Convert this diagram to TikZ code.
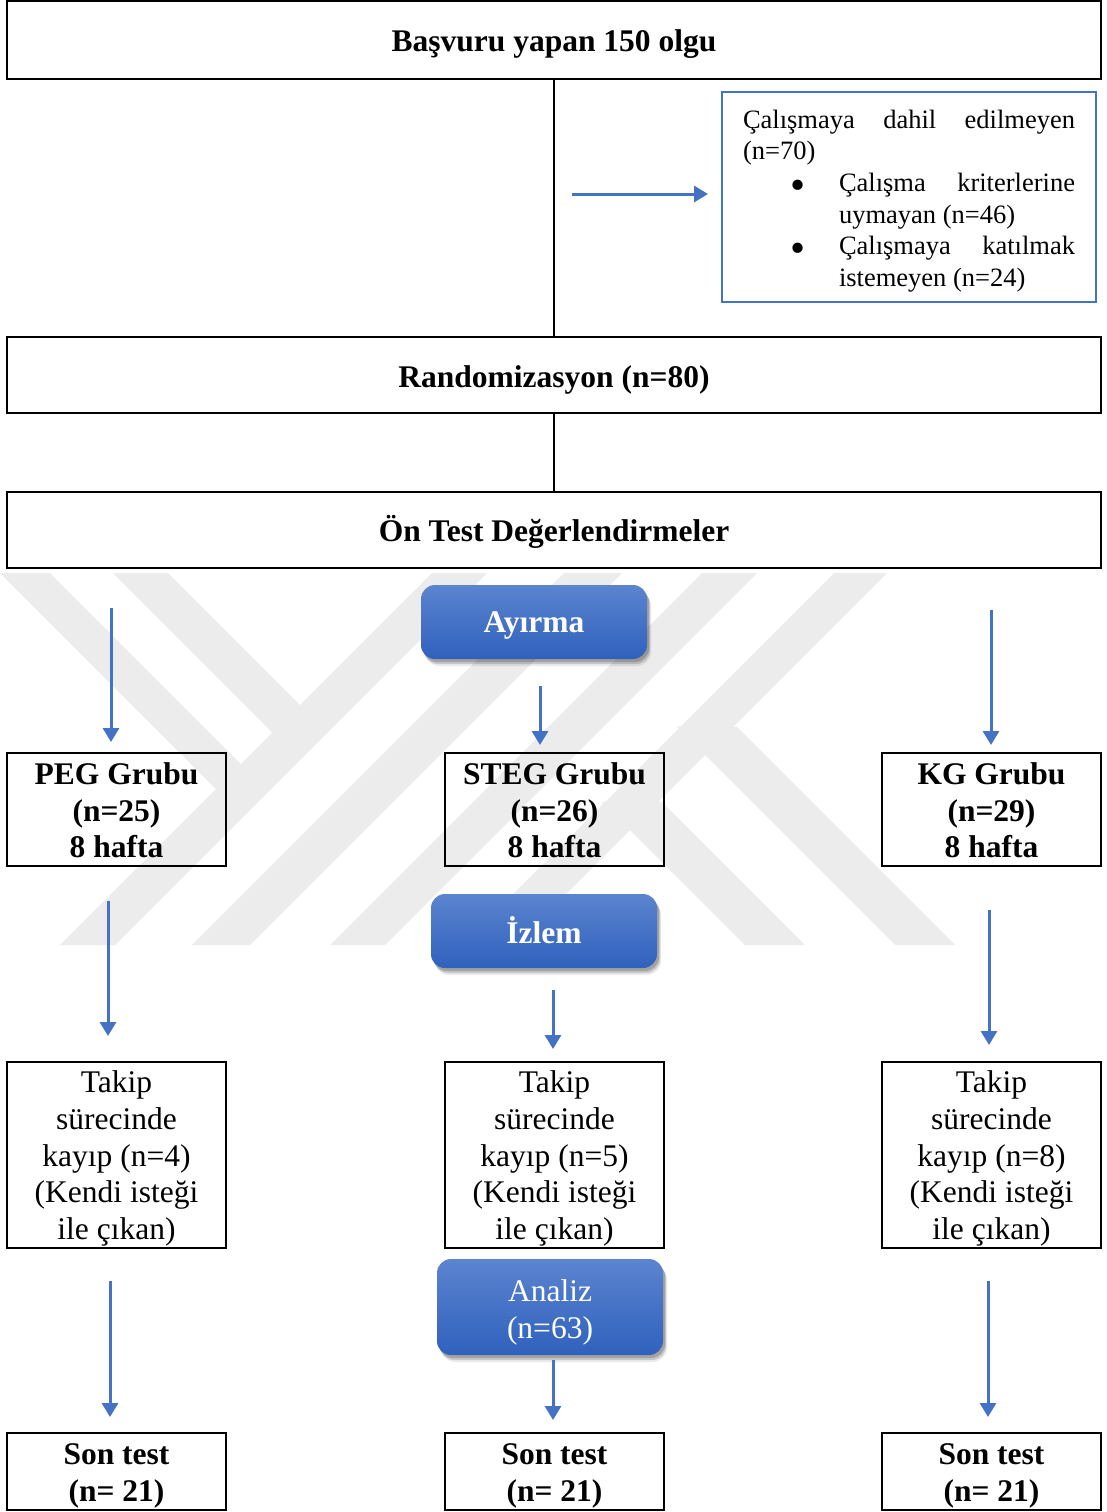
\documentclass[tikz,border=0pt]{standalone}
\usepackage{fontspec}
\setmainfont{Liberation Serif}
\usetikzlibrary{arrows.meta,shadows}
\definecolor{arrowblue}{RGB}{68,114,196}
\definecolor{wm}{RGB}{236,236,236}
\definecolor{btop}{RGB}{92,132,207}
\definecolor{bbot}{RGB}{47,97,189}
\tikzset{
  frame/.style={draw=black, line width=2.5pt, rectangle, inner sep=0pt},
  normtext/.style={inner sep=0pt, align=center, font=\fontsize{31.5}{36.7}\selectfont},
  boldtext/.style={inner sep=0pt, align=center, font=\fontsize{31.5}{36.7}\selectfont\bfseries},
  pill/.style={rectangle, rounded corners=14pt, top color=btop, bottom color=bbot,
    draw=none, inner sep=0pt, minimum width=226pt,
    drop shadow={shadow xshift=2pt, shadow yshift=-3pt, opacity=0.18, fill=black},
    drop shadow={shadow xshift=3pt, shadow yshift=-5pt, opacity=0.15, fill=black},
    drop shadow={shadow xshift=4pt, shadow yshift=-7pt, opacity=0.08, fill=black}},
  pilltext/.style={inner sep=0pt, align=center, text=white},
  flow/.style={draw=arrowblue, line width=3pt, -{Triangle[width=16pt,length=14pt]}},
  link/.style={draw=black, line width=1.8pt},
  band/.style={fill=wm, draw=none},
}
\newcommand{\bigbul}{\raisebox{-8pt}{\fontsize{43}{0}\selectfont\textbullet}}
\begin{document}
\begin{tikzpicture}[x=1pt,y=-1pt]
\useasboundingbox (0,0) rectangle (1107,1512);
\fill[white] (0,0) rectangle (1107,1512);

% faint watermark
\begin{scope}
  \clip (0,573) rectangle (1107,945);
  \fill[band] (60,945)--(115,945)--(487,573)--(432,573)--cycle;
  \fill[band] (192,945)--(250,945)--(622,573)--(564,573)--cycle;
  \fill[band] (330,945)--(385,945)--(757,573)--(702,573)--cycle;
  \fill[band] (462,945)--(515,945)--(887,573)--(834,573)--cycle;
  \fill[band] (0,573)--(50,573)--(267,790)--(217,790)--cycle;
  \fill[band] (113,573)--(168,573)--(327.5,732.5)--(272.5,732.5)--cycle;
  \fill[band] (895,945)--(955,945)--(736.5,726.5)--(676.5,726.5)--cycle;
  \fill[band] (745,945)--(805,945)--(661.5,801.5)--(601.5,801.5)--cycle;
\end{scope}

% top part
\node[frame, minimum width=1094pt, minimum height=78pt] (top) at (554,40) {};
\node[boldtext] (topt) at ([yshift=-4pt]top.center) {Başvuru yapan 150 olgu};
\node[frame, minimum width=1094pt, minimum height=76pt] (rand) at (554,375) {};
\node[boldtext] (randt) at ([yshift=-5pt]rand.center) {Randomizasyon (n=80)};
\node[frame, minimum width=1094pt, minimum height=76pt] (ontest) at (554,530) {};
\node[boldtext] (ontestt) at ([yshift=-2pt]ontest.center) {Ön Test Değerlendirmeler};
\draw[link] (top.south) -- (rand.north);
\draw[link] (rand.south) -- (ontest.north);

\node[draw=arrowblue, line width=2.5pt, rectangle, inner sep=0pt,
      minimum width=374pt, minimum height=210pt] (excl) at (909,197) {};
\node[inner sep=0pt] (exclt) at ([yshift=-4pt]excl.center)
  {\parbox{332pt}{\fontsize{26.5}{31.6}\selectfont\tolerance=10000
   Çalışmaya dahil edilmeyen (n=70)\par
   \leftskip=96pt
   \noindent\llap{\bigbul\hspace{33pt}}Çalışma kriterlerine uymayan (n=46)\par
   \noindent\llap{\bigbul\hspace{33pt}}Çalışmaya katılmak istemeyen (n=24)\par}};
\coordinate (hs) at (572,194);
\coordinate (he) at (708,194);
\draw[flow] (hs) -- (he);

% Ayirma
\node[pill, minimum height=74pt] (ayirma) at (534,622) {};
\node[pilltext, font=\fontsize{31.5}{36.7}\selectfont\bfseries] (ayirmat) at ([yshift=-3pt]ayirma.center) {Ayırma};

% groups
\node[frame, minimum width=219pt, minimum height=113pt] (peg) at (116.5,809.5) {};
\node[frame, minimum width=219pt, minimum height=113pt] (steg) at (554.5,809.5) {};
\node[frame, minimum width=219pt, minimum height=113pt] (kg) at (991.5,809.5) {};
\node[boldtext] (pegt) at ([yshift=-1pt]peg.center) {PEG Grubu\\(n=25)\\8 hafta};
\node[boldtext] (stegt) at ([yshift=-1pt]steg.center) {STEG Grubu\\(n=26)\\8 hafta};
\node[boldtext] (kgt) at ([yshift=-1pt]kg.center) {KG Grubu\\(n=29)\\8 hafta};

\coordinate (a1s) at (111,608); \coordinate (a1e) at (111,742);
\coordinate (a2s) at (540,686); \coordinate (a2e) at (540,745);
\coordinate (a3s) at (991,610); \coordinate (a3e) at (991,745);
\draw[flow] (a1s) -- (a1e);
\draw[flow] (a2s) -- (a2e);
\draw[flow] (a3s) -- (a3e);

% Izlem
\node[pill, minimum height=74pt] (izlem) at (544,931) {};
\node[pilltext, font=\fontsize{31.5}{36.7}\selectfont\bfseries] (izlemt) at ([yshift=1pt]izlem.center) {İzlem};

\coordinate (a4s) at (108,901); \coordinate (a4e) at (108,1036);
\coordinate (a5s) at (553,990); \coordinate (a5e) at (553,1049);
\coordinate (a6s) at (989,910); \coordinate (a6e) at (989,1045);
\draw[flow] (a4s) -- (a4e);
\draw[flow] (a5s) -- (a5e);
\draw[flow] (a6s) -- (a6e);

% follow-up losses
\node[frame, minimum width=219pt, minimum height=186pt] (t1) at (116.5,1155) {};
\node[frame, minimum width=219pt, minimum height=186pt] (t2) at (554.5,1155) {};
\node[frame, minimum width=219pt, minimum height=186pt] (t3) at (991.5,1155) {};
\node[normtext] (t1t) at ([yshift=-3.5pt]t1.center) {Takip\\sürecinde\\kayıp (n=4)\\(Kendi isteği\\ile çıkan)};
\node[normtext] (t2t) at ([yshift=-3.5pt]t2.center) {Takip\\sürecinde\\kayıp (n=5)\\(Kendi isteği\\ile çıkan)};
\node[normtext] (t3t) at ([yshift=-3.5pt]t3.center) {Takip\\sürecinde\\kayıp (n=8)\\(Kendi isteği\\ile çıkan)};

% Analiz
\node[pill, minimum height=96pt] (analiz) at (550,1307) {};
\node[pilltext, font=\fontsize{31.5}{37.2}\selectfont] (analizt) at ([yshift=-5.5pt]analiz.center) {Analiz\\(n=63)};

\coordinate (a7s) at (110,1281); \coordinate (a7e) at (110,1417);
\coordinate (a8s) at (553,1360); \coordinate (a8e) at (553,1420);
\coordinate (a9s) at (988,1281); \coordinate (a9e) at (988,1417);
\draw[flow] (a7s) -- (a7e);
\draw[flow] (a8s) -- (a8e);
\draw[flow] (a9s) -- (a9e);

% post tests
\node[frame, minimum width=219pt, minimum height=77pt] (s1) at (116.5,1471.5) {};
\node[frame, minimum width=219pt, minimum height=77pt] (s2) at (554.5,1471.5) {};
\node[frame, minimum width=219pt, minimum height=77pt] (s3) at (991.5,1471.5) {};
\node[boldtext, font=\fontsize{31.5}{37.2}\selectfont\bfseries] (s1t) at ([yshift=-4.5pt]s1.center) {Son test\\(n= 21)};
\node[boldtext, font=\fontsize{31.5}{37.2}\selectfont\bfseries] (s2t) at ([yshift=-4.5pt]s2.center) {Son test\\(n= 21)};
\node[boldtext, font=\fontsize{31.5}{37.2}\selectfont\bfseries] (s3t) at ([yshift=-4.5pt]s3.center) {Son test\\(n= 21)};
\end{tikzpicture}
\end{document}
